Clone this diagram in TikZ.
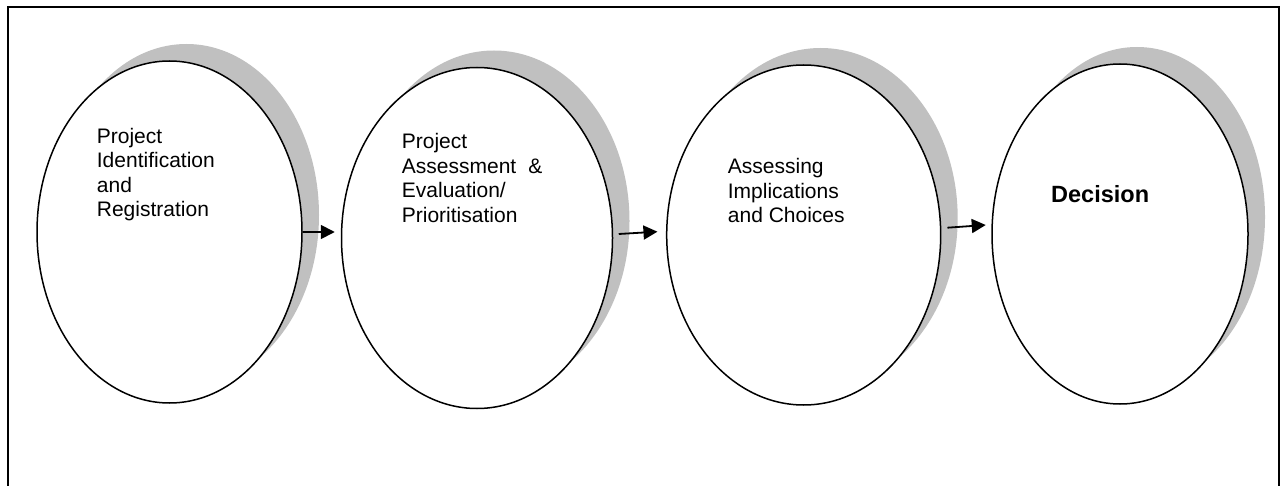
\documentclass[tikz,border=0pt]{standalone}
\usepackage{fontspec}
\setmainfont{Liberation Sans}
\usetikzlibrary{shapes.geometric,shadows,arrows.meta,calc}
\definecolor{shadowgray}{HTML}{C0C0C0}
\begin{document}
\begin{tikzpicture}[x=1pt,y=-1pt,
  stage/.style={ellipse, draw=black, line width=1.5pt, fill=white, inner sep=0pt,
    general shadow={fill=shadowgray, draw=none, shadow xshift=17pt, shadow yshift=17pt}},
  stagetext/.style={anchor=north west, inner sep=0pt, align=left,
    font=\fontsize{21}{24.5}\selectfont},
  arr/.style={line width=1.8pt, -{Triangle[length=14pt,width=14pt]}}]
\useasboundingbox (0,0) rectangle (1284,486);
\draw[line width=1.5pt] (8,492) -- (8,7) -- (1279,7) -- (1279,492);

\node[stage, minimum width=265pt, minimum height=342pt] (e1) at (169.5,232) {};
\node[stage, minimum width=271pt, minimum height=341pt] (e2) at (477,238) {};
\node[stage, minimum width=274pt, minimum height=340pt] (e3) at (803.7,235) {};
\node[stage, minimum width=256pt, minimum height=340pt] (e4) at (1120,234) {};

\node[stagetext] (t1) at (96.7,127.7) {Project\\Identification\\and\\Registration};
\node[stagetext] (t2) at (401.7,133.3) {Project\\Assessment\hspace{12pt}\&\\Evaluation/\\Prioritisation};
\node[stagetext] (t3) at (727.7,158.3) {Assessing\\Implications\\and Choices};
\node[stagetext, font=\fontsize{23.5}{28}\selectfont\bfseries] (t4) at (1051,185.7) {Decision};

\draw[arr] (e1.east) -- ($(e2.west)+(-6,-6)$);
\draw[arr] ($(e2.east)+(5.5,-4)$) -- ($(e3.west)+(-8.5,-3.3)$);
\draw[arr] ($(e3.east)+(6,-7.3)$) -- ($(e4.west)+(-5.5,-9)$);
\end{tikzpicture}
\end{document}
